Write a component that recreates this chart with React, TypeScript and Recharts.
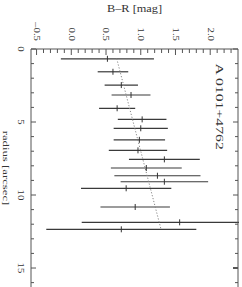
import React from 'react'
import { ScatterChart, Scatter, XAxis, YAxis, ErrorBar, ReferenceDot, Label } from 'recharts'

// colour profile B-R vs radius, plot drawn turned by 90 degrees
const radius = [0.67, 1.56, 2.47, 3.15, 4.06, 4.82, 5.43, 6.22, 6.94, 7.56, 8.15, 8.68, 9.09, 9.54, 10.82, 11.87, 12.35]
const colourBR = [0.52, 0.6, 0.72, 0.86, 0.66, 1.02, 1.0, 0.98, 0.96, 1.34, 1.08, 1.24, 1.34, 0.79, 0.92, 1.56, 0.72]
const colourErr = [0.67, 0.22, 0.24, 0.28, 0.26, 0.35, 0.39, 0.37, 0.42, 0.51, 0.51, 0.62, 0.63, 0.65, 0.5, 1.41, 1.08]

// dotted linear fit, end points
const fitRadius = [0.66, 12.33]
const fitBR = [0.654, 1.291]

const brMajor = [-0.5, 0, 0.5, 1, 1.5, 2]
const brLabels = ['\u20130.5', '0.0', '0.5', '1.0', '1.5', '2.0']
const brTicks = Array.from({ length: 29 }, (_, i) => Math.round((-0.5 + i * 0.1) * 10) / 10)

const radMajor = [0, 5, 10, 15]
const radLabels = ['0', '5', '10', '15']
const radTicks = Array.from({ length: 17 }, (_, i) => i)

const points = radius.map((r, i) => ({ r, br: colourBR[i], err: colourErr[i] }))
const fit = fitRadius.map((r, i) => ({ r, br: fitBR[i] }))

const INK = '#333'
const AXIS = '#555'
const FONT = 'Liberation Serif, Times New Roman, serif'

function TopTick(p: any) {
  const v = p.payload.value
  const k = brMajor.findIndex((m) => Math.abs(m - v) < 1e-6)
  return (
    <g>
      <line x1={p.x} x2={p.x} y1={p.y} y2={p.y + (k >= 0 ? 6 : 4)} stroke={AXIS} strokeWidth={1} />
      {k >= 0 && (
        <text transform={`translate(${p.x},${p.y - 8}) rotate(90) scale(1.35,1)`} textAnchor="end"
          dominantBaseline="central" fontSize={8} fontFamily={FONT} fill={INK}>{brLabels[k]}</text>
      )}
    </g>
  )
}

function LeftTick(p: any) {
  const v = p.payload.value
  const k = radMajor.indexOf(v)
  return (
    <g>
      <line x1={p.x} x2={p.x + (k >= 0 ? 5 : 3)} y1={p.y} y2={p.y} stroke={AXIS} strokeWidth={1} />
      {k >= 0 && (
        <text transform={`translate(${p.x - 10},${p.y}) rotate(90) scale(1.35,1)`} textAnchor="middle"
          dominantBaseline="central" fontSize={8} fontFamily={FONT} fill={INK}>{radLabels[k]}</text>
      )}
    </g>
  )
}

function RightTick(p: any) {
  const k = radMajor.indexOf(p.payload.value)
  return <line x1={p.x} x2={p.x - (k >= 0 ? 5 : 3)} y1={p.y} y2={p.y} stroke={AXIS} strokeWidth={k === 3 ? 2 : 1} />
}

const CentreTick = (p: any) => (
  <line x1={p.cx} x2={p.cx} y1={p.cy - 3} y2={p.cy + 3} stroke={INK} strokeWidth={1} />
)
const Nothing = () => <g />

export default function App() {
  return (
    <div style={{ position: 'absolute', left: 0, top: 0, width: 242, height: 287, overflow: 'hidden', background: '#fff' }}>
      {/* svg ends just past the right frame so the long error bar is cut there */}
      <ScatterChart width={239} height={287} margin={{ top: 0, right: 0, bottom: 0, left: 0 }}>
        <XAxis type="number" dataKey="br" orientation="top" height={49} domain={[-0.58, 2.4]}
          allowDataOverflow ticks={brTicks} interval={0} tickSize={0} tickMargin={0} tick={<TopTick />}
          axisLine={{ stroke: AXIS }}>
          <Label content={(lp: any) => {
            const vb = lp.viewBox
            return (
              <text transform={`translate(${vb.x + vb.width / 2},${8.5}) scale(1.3,1)`} textAnchor="middle"
                dominantBaseline="central" fontSize={9.5} fontFamily={FONT} fill={INK}>B{'\u2013'}R [mag]</text>
            )
          }} />
        </XAxis>
        <YAxis type="number" dataKey="r" yAxisId={0} orientation="left" width={31} domain={[0, 16.3]} reversed
          allowDataOverflow ticks={radTicks} interval={0} tickSize={0} tickMargin={0} tick={<LeftTick />}
          axisLine={{ stroke: AXIS }}>
          <Label content={(lp: any) => {
            const vb = lp.viewBox
            return (
              <text transform={`translate(${vb.x + 6},${vb.y + vb.height / 2}) rotate(90) scale(1.5,1)`}
                textAnchor="middle" dominantBaseline="central" fontSize={8.5} fontFamily={FONT} fill={INK}>
                radius [arcsec]
              </text>
            )
          }} />
        </YAxis>
        <YAxis type="number" dataKey="r" yAxisId="right" orientation="right" width={1} domain={[0, 16.3]} reversed
          allowDataOverflow ticks={radTicks} interval={0} tickSize={0} tickMargin={0} tick={<RightTick />}
          axisLine={{ stroke: AXIS }} />

        <Scatter data={points} yAxisId="right" shape={Nothing} isAnimationActive={false} />
        <Scatter data={fit} yAxisId={0} shape={Nothing} isAnimationActive={false}
          line={{ stroke: '#888', strokeWidth: 1, strokeDasharray: '1.2 1.8' }} />
        <Scatter data={points} yAxisId={0} shape={CentreTick} isAnimationActive={false}>
          <ErrorBar dataKey="err" direction="x" width={0} stroke="#3a3a3a" strokeWidth={1.2} isAnimationActive={false} />
        </Scatter>

        <ReferenceDot x={2.13} y={3.95} yAxisId={0} r={0} stroke="none" fill="none"
          label={(lp: any) => {
            const vb = lp.viewBox
            const cx = vb.x + (vb.width || 0) / 2
            const cy = vb.y + (vb.height || 0) / 2
            return (
              <text transform={`translate(${cx},${cy}) rotate(90) scale(1.5,1)`} textAnchor="middle"
                dominantBaseline="central" fontSize={10.5} fontFamily={FONT} fill={INK}>A  0101+4762</text>
            )
          }} />
      </ScatterChart>
    </div>
  )
}
